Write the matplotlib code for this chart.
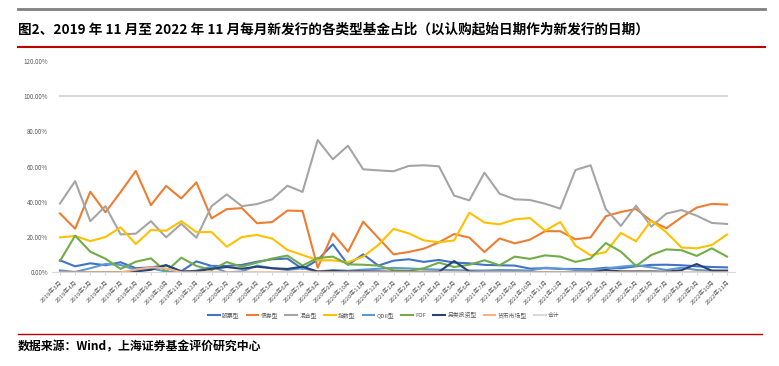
import matplotlib
matplotlib.use("Agg")
import matplotlib.pyplot as plt
from matplotlib.lines import Line2D

plt.rcParams['font.family'] = ['Noto Sans CJK SC', 'DejaVu Sans']

# 月份标签 2019年3月 ~ 2022年11月
months = ([f'2019年{m}月' for m in range(3, 13)] +
          [f'2020年{m}月' for m in range(1, 13)] +
          [f'2021年{m}月' for m in range(1, 13)] +
          [f'2022年{m}月' for m in range(1, 12)])

stock = [6.8, 3.4, 5.1, 4.0, 5.7, 2.3, 2.8, 4.0, 0.6, 6.2, 3.6, 3.6, 4.2, 6.0, 7.4,
         7.8, 1.9, 7.0, 15.9, 4.3, 10.2, 3.8, 6.6, 7.4, 5.9, 7.0, 5.5, 5.1, 4.2, 4.0,
         3.8, 2.1, 2.3, 1.9, 1.9, 1.7, 2.6, 2.3, 3.4, 4.2, 4.3, 4.0, 3.4, 3.0, 2.8]
bond = [33.4, 24.7, 45.7, 34.0, 45.5, 57.5, 38.1, 49.0, 41.9, 51.0, 30.6, 35.8, 36.4, 27.8, 28.5,
        35.0, 34.8, 2.6, 22.1, 11.7, 28.7, 19.5, 10.2, 11.5, 13.4, 17.0, 21.7, 19.7, 11.5, 19.2,
        16.4, 18.5, 23.3, 23.3, 18.7, 19.8, 31.8, 34.2, 35.9, 29.1, 25.0, 31.2, 36.7, 38.8, 38.4]
mixed = [39.0, 51.7, 29.0, 37.5, 21.5, 21.9, 29.0, 19.8, 27.5, 19.6, 37.5, 44.2, 37.5, 38.7, 41.4,
         49.1, 45.6, 75.0, 64.1, 71.8, 58.4, 57.8, 57.3, 60.3, 60.7, 60.1, 43.5, 40.8, 56.5, 44.6,
         41.4, 41.0, 38.9, 36.1, 58.0, 60.7, 35.9, 26.3, 37.8, 25.9, 33.3, 35.3, 32.1, 28.0, 27.4]
index = [19.8, 20.6, 17.7, 20.0, 25.5, 16.0, 24.0, 23.6, 29.0, 22.8, 22.8, 14.5, 20.0, 21.2, 19.1,
         12.7, 9.8, 6.8, 6.8, 5.7, 8.9, 15.5, 24.6, 22.1, 18.1, 17.0, 18.1, 33.8, 28.2, 27.2,
         30.0, 30.8, 23.6, 28.5, 15.1, 9.6, 11.5, 22.3, 17.6, 29.3, 22.7, 14.0, 13.6, 15.5, 21.4]
qdii = [1.1, 0.2, 2.3, 4.7, 4.2, 1.3, 2.3, 0.4, 0.0, 1.0, 3.2, 0.0, 0.5, 3.8, 2.3,
        1.3, 2.3, 0.4, 1.3, 0.9, 1.5, 2.0, 2.5, 2.2, 1.8, 1.5, 1.2, 1.0, 1.0, 1.3,
        1.2, 1.0, 2.6, 2.1, 1.3, 1.0, 2.1, 3.2, 4.0, 2.8, 1.3, 2.6, 1.3, 0.9, 0.9]
fof = [6.4, 20.8, 11.7, 7.7, 1.9, 6.0, 7.9, 0.4, 8.3, 3.6, 1.3, 5.8, 3.2, 5.5, 7.8,
       9.5, 3.8, 8.1, 8.9, 4.5, 4.3, 3.8, 1.1, 0.8, 2.3, 5.5, 3.0, 4.3, 6.8, 4.0,
       8.9, 7.6, 9.6, 8.9, 5.9, 7.8, 16.6, 11.7, 3.6, 9.8, 13.0, 12.5, 9.3, 13.6, 8.9]
alt = [0.0, 0.0, 0.0, 0.0, 0.0, 0.5, 1.4, 4.0, 0.5, 0.6, 2.0, 3.0, 2.0, 3.2, 2.3,
       1.9, 3.2, 0.4, 0.8, 0.4, 0.5, 0.5, 0.3, 0.3, 0.3, 0.3, 6.4, 0.4, 0.0, 0.0,
       0.0, 0.0, 0.0, 0.0, 0.0, 0.0, 1.3, 0.5, 0.5, 0.5, 0.3, 1.2, 4.7, 0.9, 0.9]
money = [0.0, 0.0, 0.0, 0.0, 0.0, 1.5, 2.8, 2.2, 0.0, 0.0, 0.0, 0.0, 0.0, 0.0, 0.0,
         0.0, 0.0, 0.0, 0.0, 0.0, 0.0, 0.0, 0.0, 0.0, 0.0, 0.0, 0.0, 0.0, 0.0, 0.0,
         0.0, 0.0, 0.0, 0.0, 0.0, 0.0, 0.0, 0.0, 0.0, 0.0, 0.0, 0.0, 0.0, 0.0, 0.0]
total = [100.0] * len(months)

names = ['股票型', '债券型', '混合型', '指数型', 'QDII型', 'FOF', '另类投资型', '货币市场型', '合计']
series = [stock, bond, mixed, index, qdii, fof, alt, money, total]
colors = ['#4472C4', '#ED7D31', '#A5A5A5', '#FFC000', '#5B9BD5', '#70AD47',
          '#264478', '#F4B183', '#D9D9D9']

fig = plt.figure(figsize=(7.79, 3.66), dpi=100)

# 页眉 / 页脚的线
fig.add_artist(Line2D([18/779, 765/779], [1 - 9/366, 1 - 9/366], color='#808080', lw=2))
fig.add_artist(Line2D([18/779, 765/779], [1 - 47/366, 1 - 47/366], color='#C00000', lw=1.5))
fig.add_artist(Line2D([18/779, 762/779], [1 - 334/366, 1 - 334/366], color='#C00000', lw=1))

fig.text(18/779, 1 - 29/366,
         '图2、2019 年 11 月至 2022 年 11 月每月新发行的各类型基金占比（以认购起始日期作为新发行的日期）',
         fontsize=9.8, fontweight='bold', va='center', ha='left', color='black')
fig.text(18/779, 1 - 347/366, '数据来源：Wind，上海证券基金评价研究中心',
         fontsize=8.6, fontweight='bold', va='center', ha='left', color='black')

ax = fig.add_axes([52.4/779, 1 - 272.3/366, (734.6 - 52.4)/779, (272.3 - 60.7)/366])
x = list(range(len(months)))
for name, vals, c in zip(names, series, colors):
    ax.plot(x, vals, color=c, lw=1.5, label=name)

ax.set_xlim(-0.5, len(months) - 0.5)
ax.set_ylim(0, 120)
ax.set_yticks([0, 20, 40, 60, 80, 100, 120])
ax.set_yticklabels([f'{v:.2f}%' for v in [0, 20, 40, 60, 80, 100, 120]])
ax.set_xticks(x)
ax.set_xticklabels(months, rotation=45, ha='right', rotation_mode='anchor')
ax.tick_params(axis='y', length=0, labelsize=4.5, labelcolor='#595959', pad=3)
ax.tick_params(axis='x', length=2, color='#D9D9D9', labelsize=4.3, labelcolor='#595959', pad=3)
for s in ['top', 'right', 'left']:
    ax.spines[s].set_visible(False)
ax.spines['bottom'].set_color('#D9D9D9')
ax.spines['bottom'].set_linewidth(0.8)

fig.legend(loc='center', bbox_to_anchor=(384/779, 1 - 315/366), ncol=9, frameon=False,
           fontsize=4.2, handlelength=2.0, columnspacing=1.2, handletextpad=0.4,
           labelcolor='#595959')

fig.savefig('out.png', dpi=100)
